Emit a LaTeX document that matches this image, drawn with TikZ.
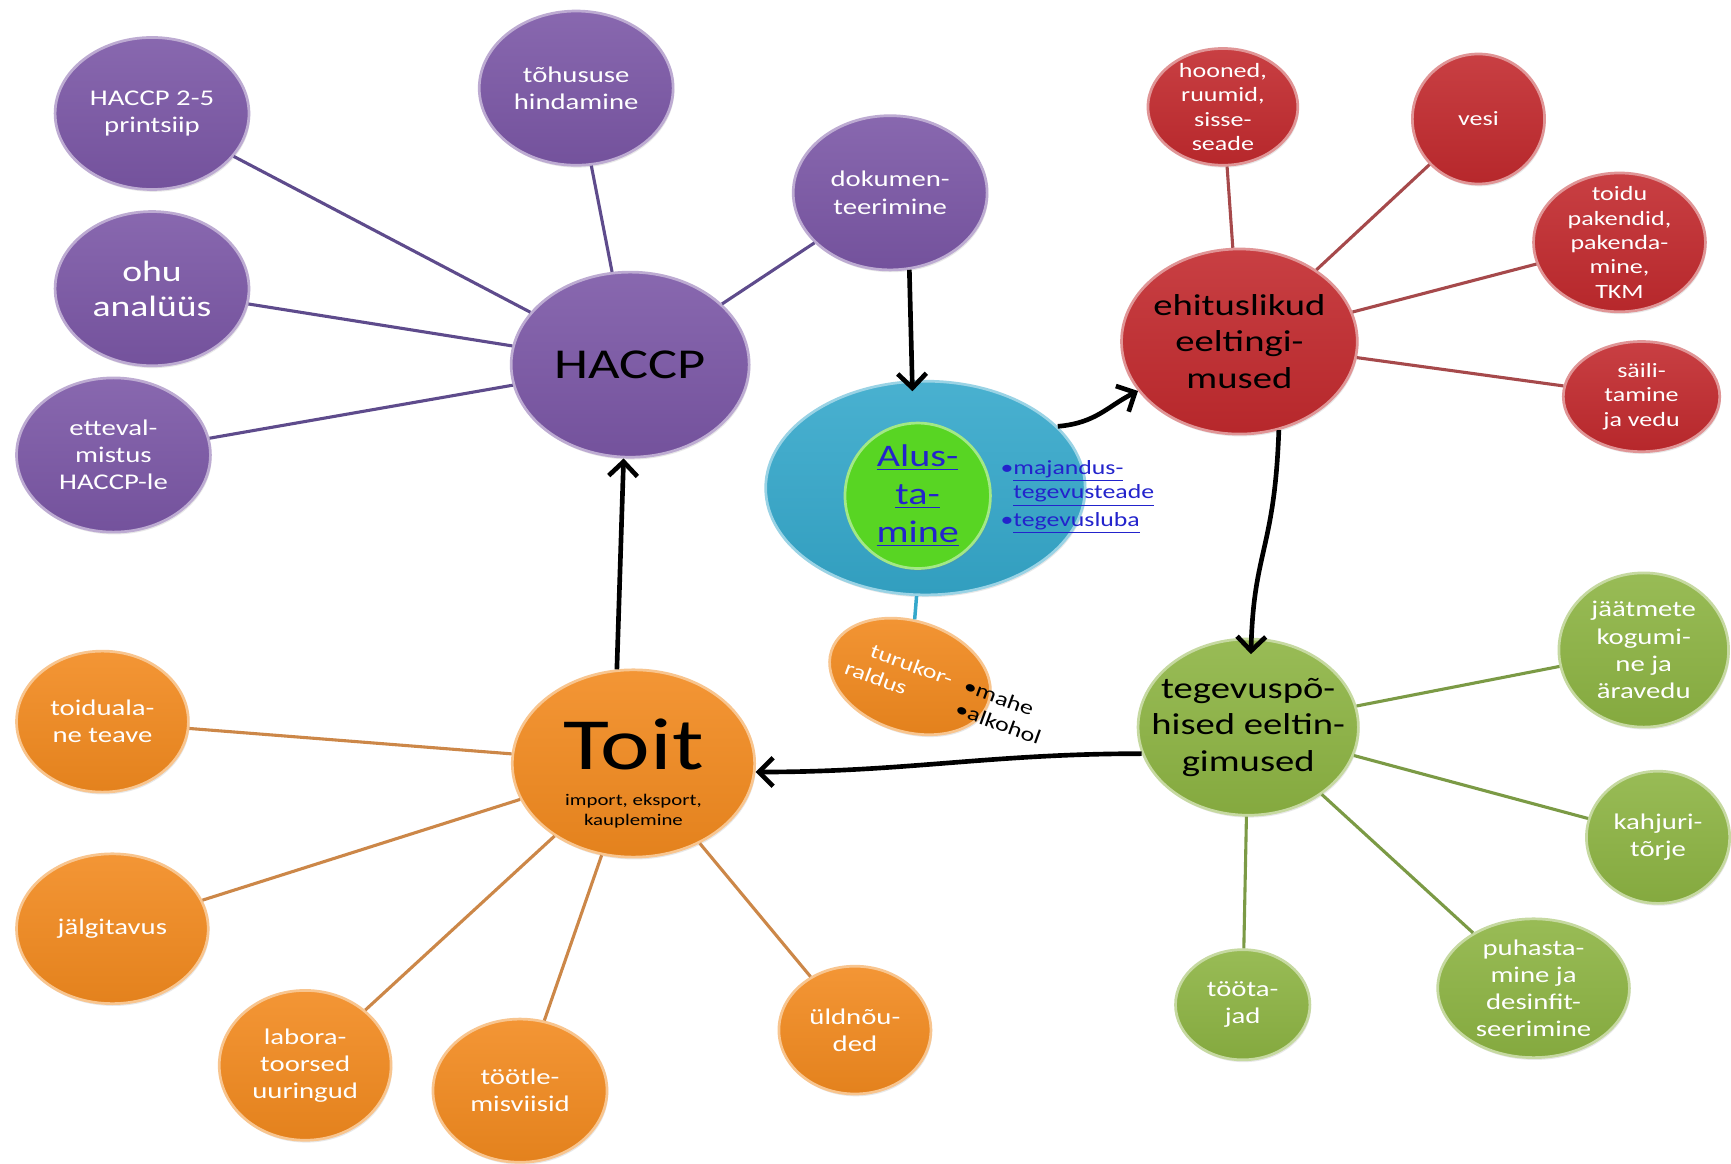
\documentclass[tikz,border=0pt]{standalone}
\usepackage{fontspec}
\setmainfont{Carlito}[FakeStretch=1.28]
\usetikzlibrary{arrows.meta, shapes.geometric, shadows}
\definecolor{Plum}{HTML}{7B57A6}
\definecolor{PlumLine}{HTML}{5E4B8C}
\definecolor{Brick}{HTML}{C22A2E}
\definecolor{BrickLine}{HTML}{A6494B}
\definecolor{Leaf}{HTML}{8DB443}
\definecolor{LeafLine}{HTML}{7B9A45}
\definecolor{Amber}{HTML}{F28A1F}
\definecolor{AmberLine}{HTML}{CC8748}
\definecolor{Sky}{HTML}{35A8CB}
\definecolor{Lime}{HTML}{58D523}
\definecolor{Link}{HTML}{2323CC}

\begin{document}
\begin{tikzpicture}[x=0.2mm,y=-0.2mm,ball/.style={ellipse, inner sep=0pt, line width=1.4pt, drop shadow={opacity=0.18, shadow xshift=0.6pt, shadow yshift=-1.2pt}},rad/.style 2 args={minimum width=#1*0.4mm, minimum height=#2*0.4mm},plumball/.style={ball, top color=Plum!90!white, bottom color=Plum!94!black, draw=Plum!50!white},brickball/.style={ball, top color=Brick!90!white, bottom color=Brick!94!black, draw=Brick!50!white},leafball/.style={ball, top color=Leaf!90!white, bottom color=Leaf!94!black, draw=Leaf!50!white},amberball/.style={ball, top color=Amber!90!white, bottom color=Amber!94!black, draw=Amber!50!white},plumlink/.style={draw=PlumLine, line width=1.6pt},bricklink/.style={draw=BrickLine, line width=1.6pt},leaflink/.style={draw=LeafLine, line width=1.6pt},amberlink/.style={draw=AmberLine, line width=1.6pt},flow/.style={-{Straight Barb[length=2.6mm, width=5.2mm]}, line width=2.4pt, draw=black},subtext/.style={text=white, align=center, font=\fontsize{11.6}{14}\selectfont},smalltext/.style={subtext, font=\fontsize{10.5}{12.6}\selectfont},maintext/.style={text=black, align=center, font=\fontsize{15.6}{18.8}\selectfont},linktext/.style={text=Link, align=left, font=\fontsize{10.4}{12.6}\selectfont}]
\fill[white] (0,0) rectangle (1568,1054);
% HACCP and its branches
\node[plumball, rad={108}{84}, label={[maintext, font=\fontsize{22}{26}\selectfont]center:HACCP}] (haccp) at (572,331) {};
\node[plumball, rad={88}{70}, label={[subtext]center:{tõhususe\\hindamine}}] (effic) at (523,80) {};
\node[plumball, rad={88}{69}, label={[subtext]center:{HACCP 2-5\\printsiip}}] (princ) at (138,103) {};
\node[plumball, rad={88}{70}, label={[subtext, font=\fontsize{15.2}{18.2}\selectfont]center:{ohu\\analüüs}}] (hazard) at (138,262) {};
\node[plumball, rad={88}{70}, label={[subtext]center:{etteval-\\mistus\\HACCP-le}}] (prep) at (103,413) {};
\node[plumball, rad={88}{70}, label={[subtext]center:{dokumen-\\teerimine}}] (docu) at (808,175) {};
\draw[plumlink] (haccp) -- (effic); \draw[plumlink] (haccp) -- (princ); \draw[plumlink] (haccp) -- (hazard);
\draw[plumlink] (haccp) -- (prep); \draw[plumlink] (haccp) -- (docu);
% starting point
\node[ball, top color=Sky!90!white, bottom color=Sky!94!black, draw=Sky!50!white, rad={145}{97}] (start) at (840,443) {};
\node[ball, fill=Lime, draw=Lime!55!white, rad={66}{66}, label={[text=Link, align=center, font=\fontsize{16.2}{19.6}\selectfont]center:{\underline{Alus-}\\\underline{ta-}\\\underline{mine}}}] (core) at (833,450) {};
\node[linktext, anchor=west] (permits) at (902,451) {\textbullet\underline{majandus-}\\\phantom{\textbullet}\underline{tegevusteade}\\[1.5pt]\textbullet\underline{tegevusluba}};
\node[amberball, rad={75}{50}, rotate=-18] (market) at (826,614) {};
\node[smalltext, rotate=-20, align=left] (markettext) at (816,611) {\hspace*{0.9em}turukor-\\raldus};
\node[smalltext, text=black, rotate=-20, align=left] (kinds) at (910,646) {\textbullet mahe\\\textbullet alkohol};
\draw[draw=Sky, line width=1.8pt] (start) -- (market);
% construction prerequisites
\node[brickball, rad={107}{84}, label={[maintext]center:{ehituslikud\\eeltingi-\\mused}}] (build) at (1125,310) {};
\node[brickball, rad={68}{53}, label={[smalltext]center:{hooned,\\ruumid,\\sisse-\\seade}}] (house) at (1110,97) {};
\node[brickball, rad={60}{59}, label={[smalltext]center:vesi}] (water) at (1342,108) {};
\node[brickball, rad={78}{63}, label={[smalltext]center:{toidu\\pakendid,\\pakenda-\\mine,\\TKM}}] (pack) at (1470,220) {};
\node[brickball, rad={71}{50}, label={[smalltext]center:{säili-\\tamine\\ja vedu}}] (store) at (1490,360) {};
\draw[bricklink] (build) -- (house); \draw[bricklink] (build) -- (water);
\draw[bricklink] (build) -- (pack); \draw[bricklink] (build) -- (store);
% operational prerequisites
\node[leafball, rad={100}{80}, label={[maintext]center:{tegevuspõ-\\hised eeltin-\\gimused}}] (oper) at (1133,660) {};
\node[leafball, rad={77}{70}, label={[subtext]center:{jäätmete\\kogumi-\\ne ja\\äravedu}}] (waste) at (1492,590) {};
\node[leafball, rad={65}{60}, label={[subtext]center:{kahjuri-\\tõrje}}] (pest) at (1505,760) {};
\node[leafball, rad={87}{63}, label={[subtext]center:{puhasta-\\mine ja\\desinfit-\\seerimine}}] (clean) at (1392,897) {};
\node[leafball, rad={61}{50}, label={[subtext]center:{tööta-\\jad}}] (staff) at (1128,912) {};
\draw[leaflink] (oper) -- (waste); \draw[leaflink] (oper) -- (pest);
\draw[leaflink] (oper) -- (clean); \draw[leaflink] (oper) -- (staff);
% food
\node[amberball, rad={110}{85}, label={[text=black, yshift=3.4mm, font=\fontsize{38}{40}\selectfont]center:Toit}, label={[text=black, align=center, yshift=-8.6mm, font=\fontsize{8.4}{10.2}\selectfont]center:{import, eksport,\\kauplemine}}] (food) at (575,693) {};
\node[amberball, rad={78}{64}, label={[subtext]center:{toiduala-\\ne teave}}] (info) at (93,655) {};
\node[amberball, rad={87}{68}, label={[subtext]center:jälgitavus}] (trace) at (102,843) {};
\node[amberball, rad={78}{68}, label={[subtext]center:{labora-\\toorsed\\uuringud}}] (lab) at (277,967) {};
\node[amberball, rad={79}{65}, label={[subtext]center:{töötle-\\misviisid}}] (proc) at (472,990) {};
\node[amberball, rad={69}{58}, label={[subtext]center:{üldnõu-\\ded}}] (gen) at (776,935) {};
\draw[amberlink] (food) -- (info); \draw[amberlink] (food) -- (trace); \draw[amberlink] (food) -- (lab);
\draw[amberlink] (food) -- (proc); \draw[amberlink] (food) -- (gen);
% main flow
\draw[flow, shorten >=-2mm] (docu.-76) -- (start.97);
\draw[flow] (start.25) .. controls +(35,-3) and +(-28,14) .. (build.206);
\draw[flow, shorten >=-3mm] (build.-66) .. controls +(-4,110) and +(2,-80) .. (oper.88);
\draw[flow] (oper.194) to[out=180, in=0] (food.-4);
\draw[flow] (food.100) -- (haccp.-94);
\end{tikzpicture}
\end{document}
